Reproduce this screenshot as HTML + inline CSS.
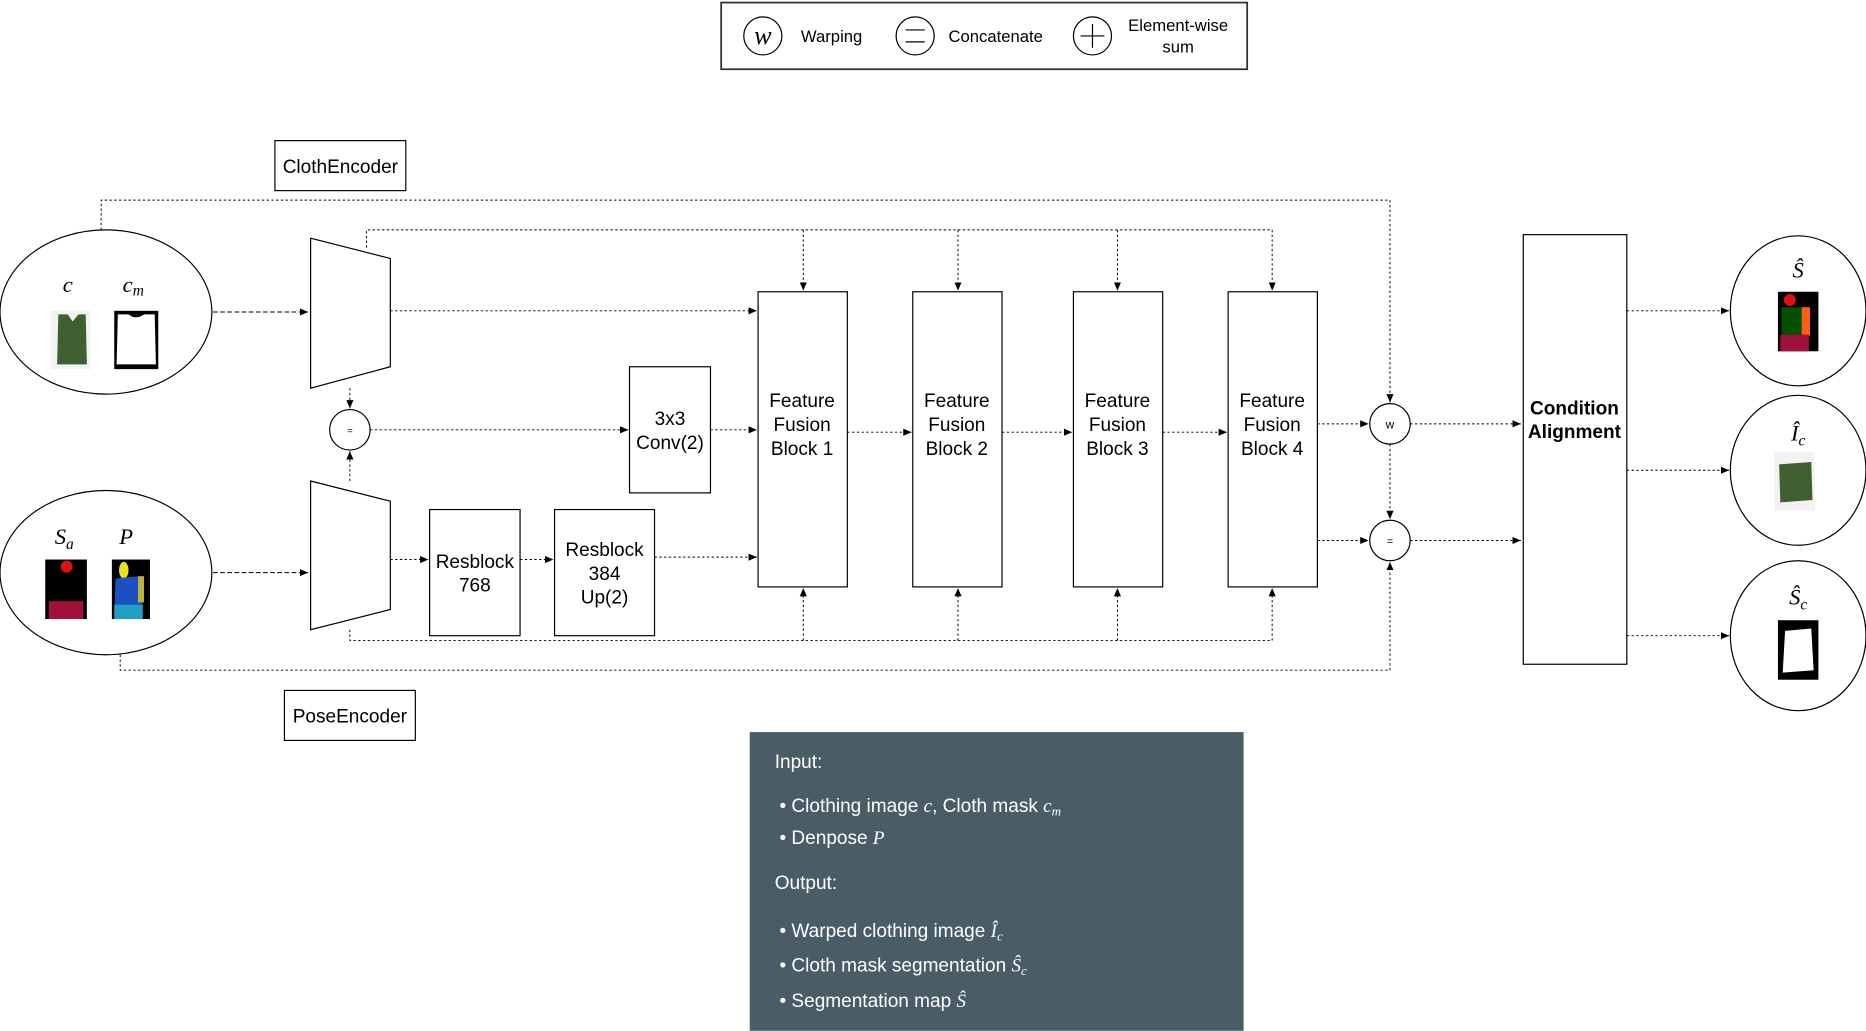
<!DOCTYPE html>
<html><head><meta charset="utf-8"><style>
html,body{margin:0;padding:0;background:#fff;width:1866px;height:1031px;overflow:hidden}
svg{display:block}
text{font-family:"Liberation Sans",sans-serif}
.m{font-family:"Liberation Serif",serif;font-style:italic}
</style></head><body>
<svg width="1866" height="1031" viewBox="0 0 1568 866" xmlns="http://www.w3.org/2000/svg">
<defs><marker id="a" markerWidth="8" markerHeight="8" refX="7" refY="4" orient="auto" markerUnits="userSpaceOnUse"><path d="M0,1 L7,4 L0,7 Z" fill="#000"/></marker></defs>
<g fill="none" stroke="#000" stroke-width="1">
<rect x="606" y="2" width="442" height="56" stroke-width="1.5" stroke="#333"/>
<circle cx="641" cy="30" r="16"/><circle cx="769" cy="30" r="16"/><circle cx="918" cy="30" r="16"/>
<line x1="761" y1="25" x2="777" y2="25"/><line x1="761" y1="35" x2="777" y2="35"/>
<line x1="908" y1="30" x2="928" y2="30"/><line x1="918" y1="20" x2="918" y2="40"/>
<rect x="231" y="118" width="110" height="42"/><rect x="239" y="580" width="110" height="42"/>
<ellipse cx="89" cy="262" rx="89" ry="69"/><ellipse cx="89" cy="481" rx="89" ry="69"/>
<path d="M261,200 L328,217 L328,308 L261,326 Z"/><path d="M261,404 L328,421 L328,512 L261,529 Z"/>
<circle cx="294" cy="361" r="17"/><circle cx="1168" cy="356" r="17"/><circle cx="1168" cy="454" r="17"/>
<rect x="529" y="308" width="68" height="106"/>
<rect x="637" y="245" width="75" height="248"/><rect x="767" y="245" width="75" height="248"/>
<rect x="902" y="245" width="75" height="248"/><rect x="1032" y="245" width="75" height="248"/>
<rect x="361" y="428" width="76" height="106"/><rect x="466" y="428" width="84" height="106"/>
<rect x="1280" y="197" width="87" height="361"/>
<ellipse cx="1511" cy="261" rx="57" ry="63"/><ellipse cx="1511" cy="395" rx="57" ry="63"/><ellipse cx="1511" cy="534" rx="57" ry="63"/>
</g>
<g fill="none" stroke="#000" stroke-width="0.8" stroke-dasharray="2,2">
<path d="M179,262 H259" stroke-dasharray="4,2" marker-end="url(#a)"/>
<path d="M179,481 H259" stroke-dasharray="4,2" marker-end="url(#a)"/>
<path d="M85,193 V168 H1168 V338" marker-end="url(#a)"/>
<path d="M101,550 V563 H1168 V472" marker-end="url(#a)"/>
<path d="M308,208 V193 H1069"/>
<path d="M675,193 V244" marker-end="url(#a)"/><path d="M805,193 V244" marker-end="url(#a)"/><path d="M939,193 V244" marker-end="url(#a)"/><path d="M1069,193 V244" marker-end="url(#a)"/>
<path d="M294,529 V538 H1069"/>
<path d="M675,538 V494" marker-end="url(#a)"/><path d="M805,538 V494" marker-end="url(#a)"/><path d="M939,538 V494" marker-end="url(#a)"/><path d="M1069,538 V494" marker-end="url(#a)"/>
<path d="M328,261 H636" marker-end="url(#a)"/>
<path d="M294,326 V343" marker-end="url(#a)"/><path d="M294,404 V379" marker-end="url(#a)"/>
<path d="M311,361 H528" marker-end="url(#a)"/><path d="M597,361 H636" marker-end="url(#a)"/>
<path d="M712,363 H766" marker-end="url(#a)"/><path d="M842,363 H901" marker-end="url(#a)"/><path d="M977,363 H1031" marker-end="url(#a)"/>
<path d="M328,470 H360" marker-end="url(#a)"/><path d="M437,470 H465" marker-end="url(#a)"/><path d="M550,468 H636" marker-end="url(#a)"/>
<path d="M1107,356 H1150" marker-end="url(#a)"/><path d="M1107,454 H1150" marker-end="url(#a)"/>
<path d="M1168,373 V436" marker-end="url(#a)"/>
<path d="M1185,356 H1278" marker-end="url(#a)"/><path d="M1185,454 H1278" marker-end="url(#a)"/>
<path d="M1367,261 H1453" marker-end="url(#a)"/><path d="M1367,395 H1453" marker-end="url(#a)"/><path d="M1367,534 H1453" marker-end="url(#a)"/>
</g>
<rect x="43" y="261" width="33" height="49" fill="#f2f2f2"/><path d="M49,264 L57,264 L61,270 L66,264 L72,264 L73,306 L48,306 Z" fill="#3f5f30"/>
<rect x="96" y="261" width="37" height="49" fill="#000"/><path d="M99,264 L108,264 Q114,269 121,264 L130,264 L131,306 L98,306 Z" fill="#fff"/>
<rect x="38" y="470" width="35" height="50" fill="#000"/><circle cx="56" cy="476" r="5" fill="#e01010"/><rect x="41" y="505" width="29" height="15" fill="#a0103a"/>
<rect x="94" y="470" width="32" height="50" fill="#000"/><ellipse cx="104" cy="479" rx="4" ry="7" fill="#e8e020"/><path d="M97,486 L116,484 L120,510 L96,520 Z" fill="#1a50c0"/><rect x="116" y="484" width="5" height="22" fill="#c0b040"/><rect x="96" y="508" width="24" height="12" fill="#20a0c0"/>
<rect x="1494" y="245" width="34" height="50" fill="#000"/><circle cx="1504" cy="252" r="5" fill="#e01010"/><rect x="1497" y="258" width="22" height="23" fill="#005000"/><rect x="1514" y="258" width="7" height="24" fill="#ff6010"/><rect x="1496" y="281" width="24" height="14" fill="#a0103a"/>
<rect x="1491" y="380" width="34" height="49" fill="#f2f2f2"/><path d="M1495,390 L1522,388 L1523,420 L1496,422 Z" fill="#3f5f30"/>
<rect x="1494" y="521" width="34" height="50" fill="#000"/><path d="M1500,530 L1522,528 L1524,563 L1498,565 Z" fill="#fff"/>
<g font-size="14" fill="#000">
<text x="641" y="37" text-anchor="middle" class="m" font-size="22">w</text>
<text x="673" y="35">Warping</text><text x="797" y="35">Concatenate</text>
<text x="990" y="26" text-anchor="middle">Element-wise</text><text x="990" y="44" text-anchor="middle">sum</text>
</g>
<g font-size="16" fill="#000" text-anchor="middle">
<text x="286" y="145">ClothEncoder</text><text x="294" y="607">PoseEncoder</text>
<text x="563" y="357">3x3</text><text x="563" y="377">Conv(2)</text>
<text x="674" y="342">Feature</text><text x="674" y="362">Fusion</text><text x="674" y="382">Block 1</text>
<text x="804" y="342">Feature</text><text x="804" y="362">Fusion</text><text x="804" y="382">Block 2</text>
<text x="939" y="342">Feature</text><text x="939" y="362">Fusion</text><text x="939" y="382">Block 3</text>
<text x="1069" y="342">Feature</text><text x="1069" y="362">Fusion</text><text x="1069" y="382">Block 4</text>
<text x="399" y="477">Resblock</text><text x="399" y="497">768</text>
<text x="508" y="467">Resblock</text><text x="508" y="487">384</text><text x="508" y="507">Up(2)</text>
<text x="1323" y="348" font-weight="bold">Condition</text><text x="1323" y="368" font-weight="bold">Alignment</text>
<text x="294" y="364" font-size="8">=</text><text x="1168" y="360" font-size="10">w</text><text x="1168" y="458" font-size="9">=</text>
</g>
<g font-size="19" fill="#000" text-anchor="middle">
<text x="57" y="245" class="m">c</text><text x="112" y="245" class="m">c<tspan font-size="13" dy="3">m</tspan></text>
<text x="54" y="457" class="m">S<tspan font-size="13" dy="4">a</tspan></text><text x="106" y="457" class="m">P</text>
<text x="1511" y="233" class="m">Ŝ</text><text x="1511" y="370" class="m">Î<tspan font-size="13" dy="4">c</tspan></text><text x="1511" y="508" class="m">Ŝ<tspan font-size="13" dy="4">c</tspan></text>
</g>
<rect x="630" y="615" width="415" height="251" fill="#4a5c66"/>
<g fill="#fff" font-size="16">
<text x="651" y="645">Input:</text>
<text x="655" y="682">•  Clothing image <tspan class="m">c</tspan>, Cloth mask <tspan class="m">c<tspan font-size="11" dy="3">m</tspan></tspan></text>
<text x="655" y="709">•  Denpose <tspan class="m">P</tspan></text>
<text x="651" y="747">Output:</text>
<text x="655" y="787">•  Warped clothing image <tspan class="m">Î<tspan font-size="11" dy="3">c</tspan></tspan></text>
<text x="655" y="816">•  Cloth mask segmentation <tspan class="m">Ŝ<tspan font-size="11" dy="3">c</tspan></tspan></text>
<text x="655" y="846">•  Segmentation map <tspan class="m">Ŝ</tspan></text>
</g>
</svg>
</body></html>
